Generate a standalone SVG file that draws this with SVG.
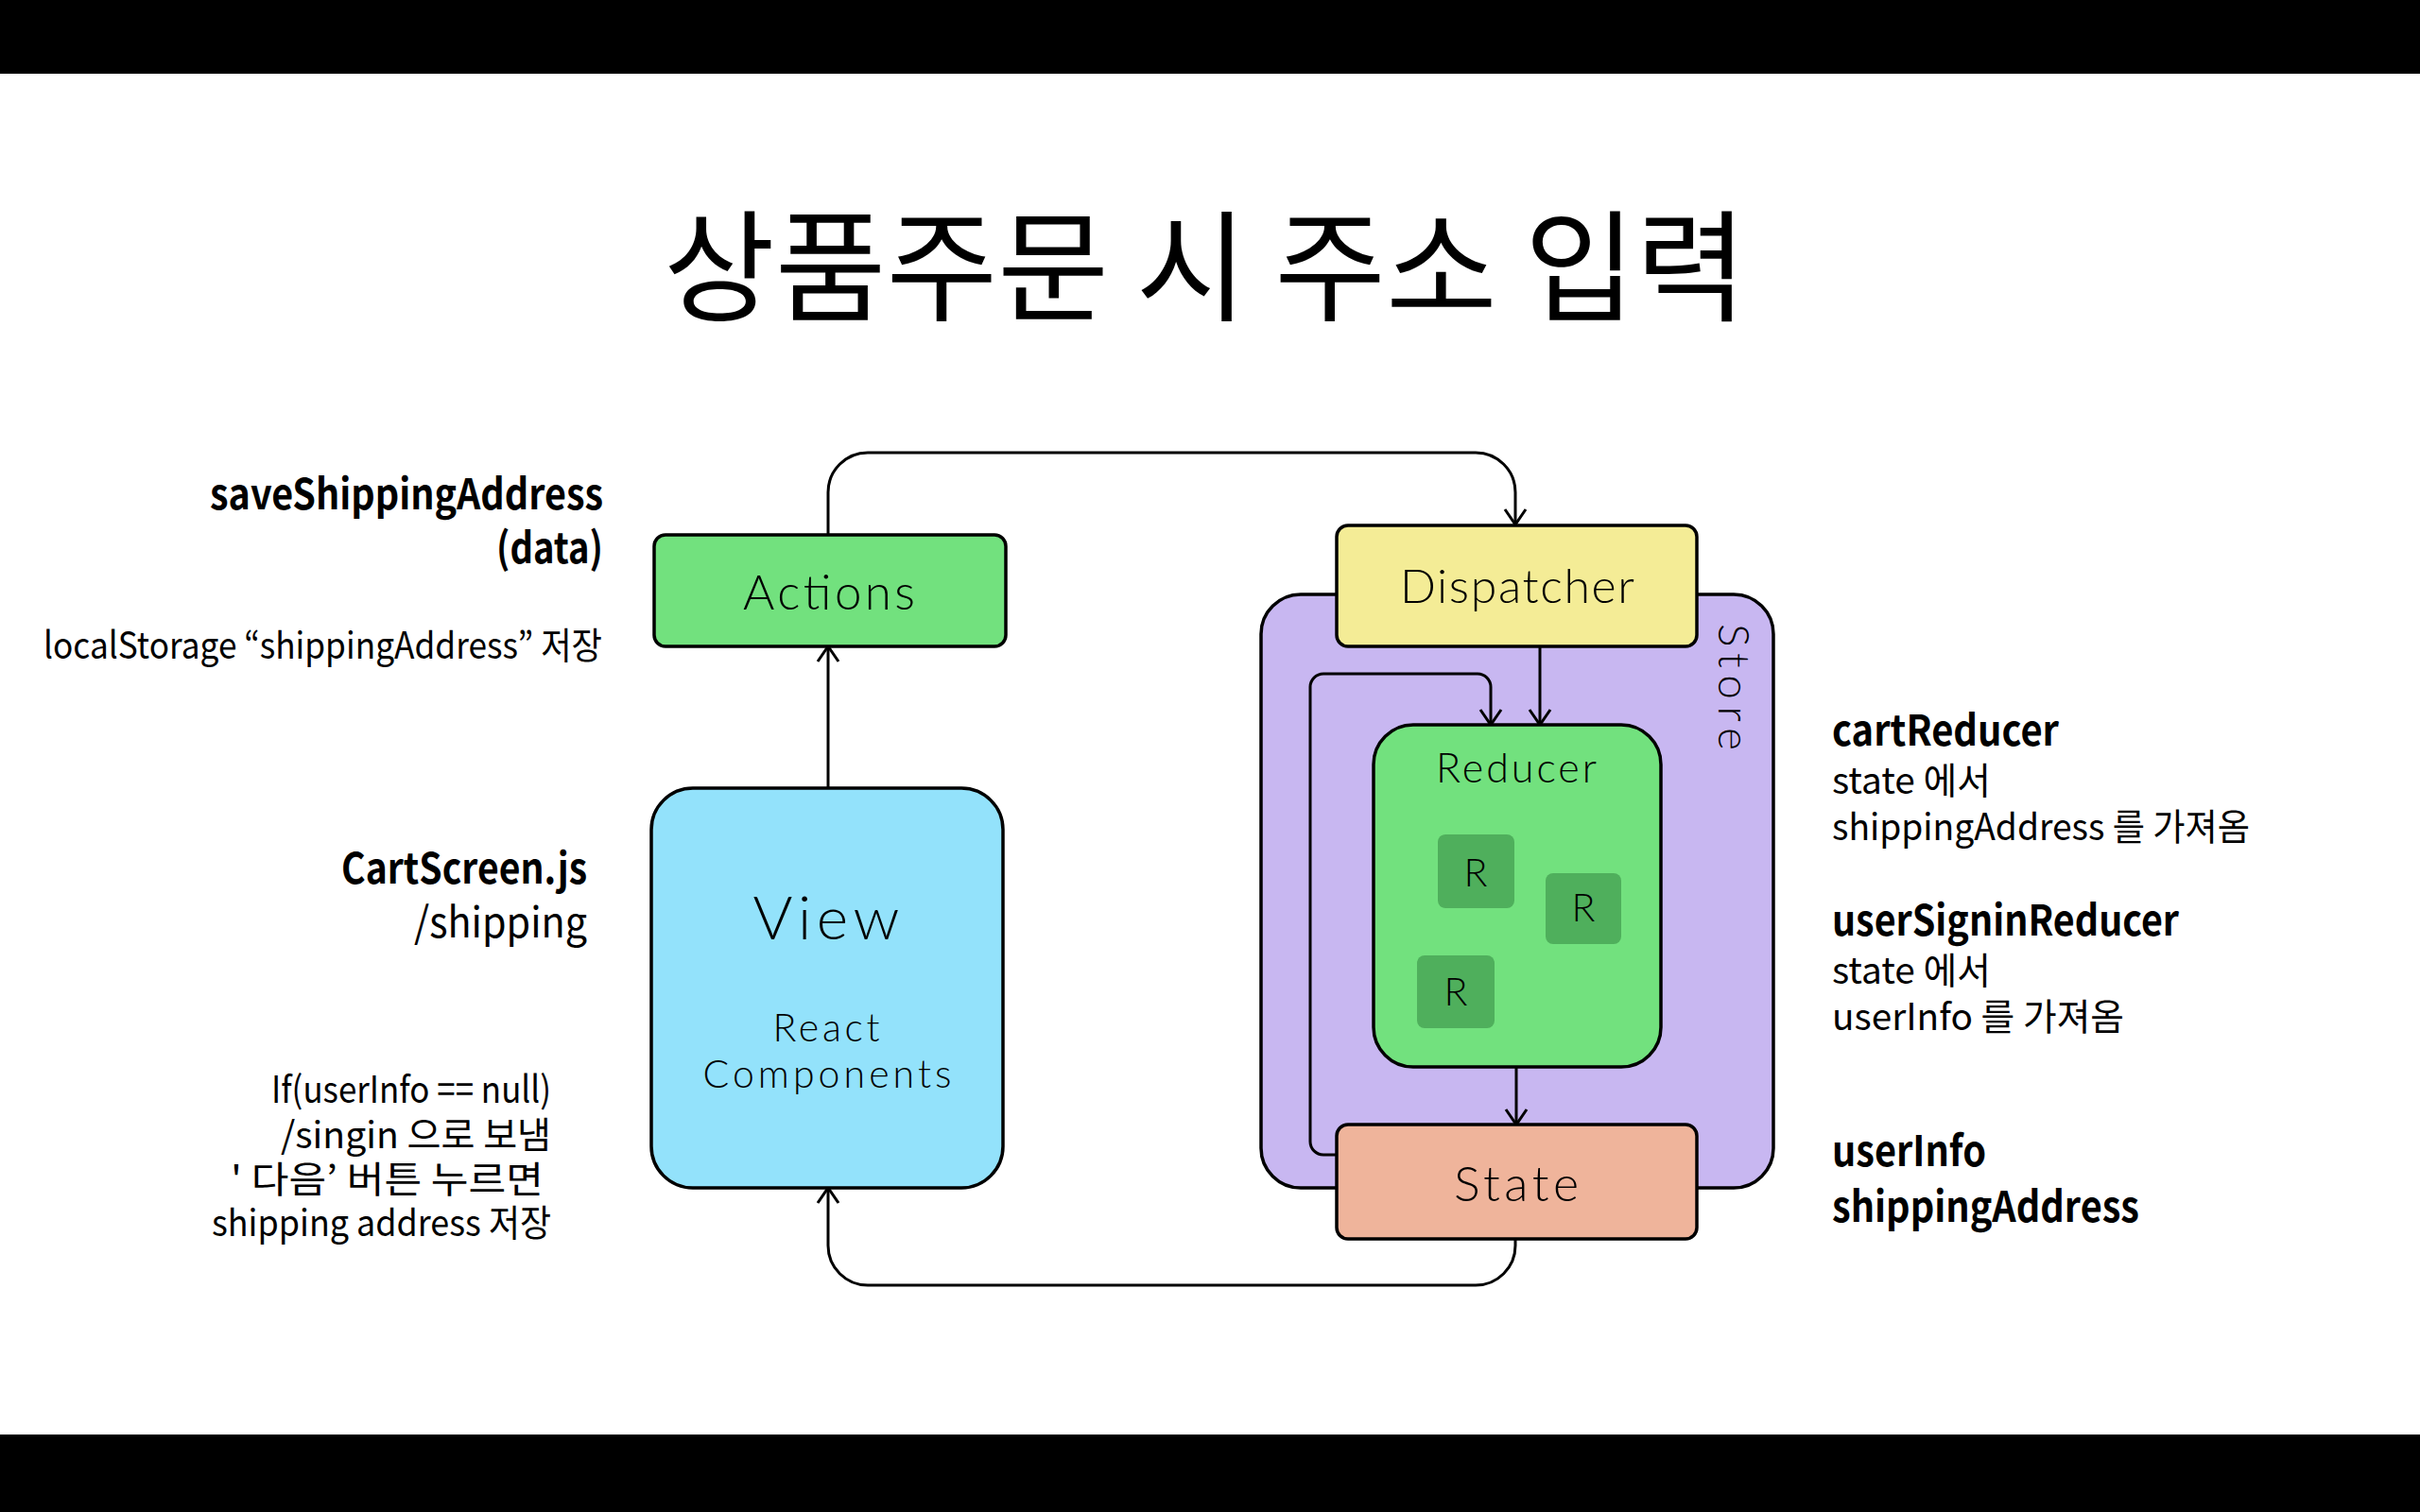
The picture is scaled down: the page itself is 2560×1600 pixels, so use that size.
<svg xmlns="http://www.w3.org/2000/svg" width="2560" height="1600" viewBox="0 0 2560 1600">
<defs>
<style>
.box{stroke:#000;stroke-width:3.5}
.lbl{font-family:"Lato","Inter","DejaVu Sans",sans-serif;font-weight:300;fill:#000;text-anchor:middle}
.t{font-family:"Noto Sans CJK KR","Noto Sans",sans-serif;fill:#000}
.b{font-weight:700;font-size:45px}
.r{font-weight:400;font-size:39px}
.end{text-anchor:end}
.conn{fill:none;stroke:#000;stroke-width:3}
</style>
<marker id="arr" markerUnits="userSpaceOnUse" markerWidth="30" markerHeight="30" viewBox="0 0 30 30" refX="27" refY="15" orient="auto">
<path d="M11,4 L27,15 L11,26" fill="none" stroke="#000" stroke-width="3"/>
</marker>
</defs>
<rect x="0" y="0" width="2560" height="1600" fill="#fff"/>
<rect x="0" y="0" width="2560" height="78" fill="#000"/>
<rect x="0" y="1518" width="2560" height="82" fill="#000"/>

<text class="t" x="1275" y="330" font-size="128" text-anchor="middle">상품주문 시 주소 입력</text>

<g id="store">
<rect class="box" x="1334" y="629" width="542" height="628" rx="42" fill="#C8B7F1"/>
<text class="lbl" font-size="46" transform="translate(1818,727) rotate(90)" textLength="134" lengthAdjust="spacing">Store</text>
</g>

<g id="connectors">
<path class="conn" d="M876,565 V521 A42,42 0 0 1 918,479 H1561 A42,42 0 0 1 1603,521 V555" marker-end="url(#arr)"/>
<path class="conn" d="M876,833 V684" marker-end="url(#arr)"/>
<path class="conn" d="M1629,684 V767" marker-end="url(#arr)"/>
<path class="conn" d="M1414,1222 H1400 A14,14 0 0 1 1386,1208 V727 A14,14 0 0 1 1400,713 H1563 A14,14 0 0 1 1577,727 V767" marker-end="url(#arr)"/>
<path class="conn" d="M1604,1129 V1190" marker-end="url(#arr)"/>
<path class="conn" d="M1603,1311 V1318 A42,42 0 0 1 1561,1360 H918 A42,42 0 0 1 876,1318 V1257" marker-end="url(#arr)"/>
</g>

<g id="actions">
<rect class="box" x="692" y="566" width="372" height="118" rx="12" fill="#72E17E"/>
<text class="lbl" x="877" y="645" font-size="51" textLength="182" lengthAdjust="spacing">Actions</text>
</g>

<g id="view">
<rect class="box" x="689" y="834" width="372" height="423" rx="44" fill="#93E2FB"/>
<text class="lbl" x="874" y="994" font-size="64" textLength="155" lengthAdjust="spacing">View</text>
<text class="lbl" x="874" y="1102" font-size="41" textLength="113" lengthAdjust="spacing">React</text>
<text class="lbl" x="875" y="1151" font-size="41" textLength="263" lengthAdjust="spacing">Components</text>
</g>

<g id="dispatcher">
<rect class="box" x="1414" y="556" width="381" height="128" rx="12" fill="#F4EC96"/>
<text class="lbl" x="1605" y="638" font-size="50" textLength="248" lengthAdjust="spacing">Dispatcher</text>
</g>

<g id="reducer">
<rect class="box" x="1453" y="767" width="304" height="362" rx="42" fill="#72E17E"/>
<text class="lbl" x="1604" y="828" font-size="43" textLength="170" lengthAdjust="spacing">Reducer</text>
<rect x="1521" y="883" width="81" height="78" rx="8" fill="#4FAF5C"/>
<text class="lbl" x="1561" y="938" font-size="41">R</text>
<rect x="1635" y="924" width="80" height="75" rx="8" fill="#4FAF5C"/>
<text class="lbl" x="1675" y="975" font-size="41">R</text>
<rect x="1499" y="1011" width="82" height="77" rx="8" fill="#4FAF5C"/>
<text class="lbl" x="1540" y="1064" font-size="41">R</text>
</g>

<g id="state">
<rect class="box" x="1414" y="1190" width="381" height="121" rx="12" fill="#EFB49B"/>
<text class="lbl" x="1604" y="1271" font-size="52" textLength="132" lengthAdjust="spacing">State</text>
</g>

<g id="left-notes">
<text class="t b end" x="638" y="539" textLength="416" lengthAdjust="spacingAndGlyphs">saveShippingAddress</text>
<text class="t b end" x="638" y="596" textLength="113" lengthAdjust="spacingAndGlyphs">(data)</text>
<text class="t r end" x="637" y="697" textLength="591" lengthAdjust="spacingAndGlyphs">localStorage “shippingAddress” 저장</text>
<text class="t b end" x="621" y="935" textLength="260" lengthAdjust="spacingAndGlyphs">CartScreen.js</text>
<text class="t end" x="621" y="992" font-size="45" textLength="183" lengthAdjust="spacingAndGlyphs">/shipping</text>
<text class="t r end" x="583" y="1167" textLength="296" lengthAdjust="spacingAndGlyphs">If(userInfo == null)</text>
<text class="t r end" x="583" y="1215" textLength="286" lengthAdjust="spacingAndGlyphs">/singin 으로 보냄</text>
<text class="t r end" x="575" y="1262" textLength="331" lengthAdjust="spacingAndGlyphs">'  다음’ 버튼 누르면</text>
<text class="t r end" x="583" y="1308" textLength="359" lengthAdjust="spacingAndGlyphs">shipping address 저장</text>
</g>

<g id="right-notes">
<text class="t b" x="1938" y="789" textLength="240" lengthAdjust="spacingAndGlyphs">cartReducer</text>
<text class="t r" x="1938" y="840" textLength="168" lengthAdjust="spacingAndGlyphs">state 에서</text>
<text class="t r" x="1938" y="889" textLength="442" lengthAdjust="spacingAndGlyphs">shippingAddress 를 가져옴</text>
<text class="t b" x="1938" y="990" textLength="367" lengthAdjust="spacingAndGlyphs">userSigninReducer</text>
<text class="t r" x="1938" y="1041" textLength="168" lengthAdjust="spacingAndGlyphs">state 에서</text>
<text class="t r" x="1938" y="1090" textLength="309" lengthAdjust="spacingAndGlyphs">userInfo 를 가져옴</text>
<text class="t b" x="1938" y="1234" textLength="163" lengthAdjust="spacingAndGlyphs">userInfo</text>
<text class="t b" x="1938" y="1293" textLength="325" lengthAdjust="spacingAndGlyphs">shippingAddress</text>
</g>
</svg>
